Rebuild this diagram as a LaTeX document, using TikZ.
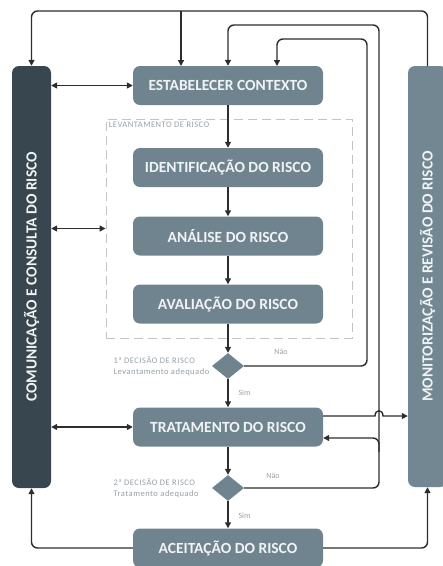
\documentclass[tikz,border=0pt]{standalone}
\usepackage{fontspec}
\setmainfont{Carlito}
\usetikzlibrary{arrows.meta,shapes.geometric}
\definecolor{boxc}{RGB}{112,132,143}
\definecolor{darkbar}{RGB}{55,70,79}
\definecolor{lightbar}{RGB}{114,135,146}
\definecolor{linec}{RGB}{45,45,45}
\definecolor{labc}{RGB}{150,160,166}
\definecolor{dashc}{RGB}{195,195,195}
\definecolor{txtc}{RGB}{240,243,245}
\begin{document}
\begin{tikzpicture}[x=1pt,y=-1pt,
 stepbox/.style={draw=none,fill=boxc,rounded corners=7pt,minimum width=190pt,minimum height=39pt,text=txtc,font=\fontsize{15.5}{17}\selectfont\bfseries,inner sep=0pt},
 bar/.style={fill=#1,rounded corners=7pt,minimum width=39pt,inner sep=0pt},
 decision/.style={diamond,fill=boxc,minimum width=32pt,minimum height=26pt,inner sep=0pt},
 conn/.style={draw=linec,line width=1.4pt,-{Triangle[length=6pt,width=6pt]}},
 conn2/.style={draw=linec,line width=1.4pt,{Triangle[length=6pt,width=6pt]}-{Triangle[length=6pt,width=6pt]}},
 small/.style={text=labc,font=\fontsize{8.5}{11}\selectfont\addfontfeatures{LetterSpace=6}},
 tiny/.style={text=labc,font=\fontsize{8}{10}\selectfont},
 bartext/.style={text=txtc,font=\fontsize{15.5}{17}\selectfont\bfseries,rotate=90}
]
\useasboundingbox (0,0) rectangle (443,566);
% bars
\node[bar=darkbar,minimum height=422pt] (lb) at (31.5,277) {};
\node[bartext] (lbt) at (lb) {COMUNICAÇÃO E CONSULTA DO RISCO};
\node[bar=lightbar,minimum height=421pt] (rb) at (427.5,276.5) {};
\node[bartext] (rbt) at (rb) {MONITORIZAÇÃO E REVISÃO DO RISCO};
% dashed group
\node[draw=dashc,line width=0.8pt,dash pattern=on 9pt off 5pt,minimum width=246pt,minimum height=219pt,inner sep=0pt] (lev) at (229,228.5) {};
\node[small,anchor=north west,inner sep=3pt] (levt) at (lev.north west) {LEVANTAMENTO DE RISCO};
% steps
\node[stepbox] (es) at (228,85.5) {ESTABELECER CONTEXTO};
\node[stepbox] (id) at (228,167.5) {IDENTIFICAÇÃO DO RISCO};
\node[stepbox] (an) at (228,236) {ANÁLISE DO RISCO};
\node[stepbox] (av) at (228,304) {AVALIAÇÃO DO RISCO};
\node[decision] (d1) at (228,366) {};
\node[stepbox] (tr) at (228,427) {TRATAMENTO DO RISCO};
\node[decision] (d2) at (228,488) {};
\node[stepbox] (ac) at (228,548) {ACEITAÇÃO DO RISCO};
% labels
\node[small,anchor=west,align=left] (dl1) at (110,366) {1ª DECISÃO DE RISCO\\Levantamento adequado};
\node[small,anchor=west,align=left] (dl2) at (110,488) {2ª DECISÃO DE RISCO\\Tratamento adequado};
\node[tiny] (n1) at (281,352) {Não};
\node[tiny] (n2) at (273,476) {Não};
\node[tiny,anchor=west] (s1) at (235,393) {Sim};
\node[tiny,anchor=west] (s2) at (235,516) {Sim};
% main flow
\draw[conn] (es) -- (id);
\draw[conn] (id) -- (an);
\draw[conn] (an) -- (av);
\draw[conn] (av) -- (d1);
\draw[conn] (d1) -- (tr);
\draw[conn] (tr) -- (d2);
\draw[conn] (d2) -- (ac);
% double arrows
\draw[conn2] (lb.east |- es.west) -- (es.west);
\draw[conn2] (lb.east |- lev.west) -- (lev.west);
\draw[conn2] (lb.east |- tr.west) -- (tr.west);
% top loop A
\coordinate (ya) at (0,11);
\coordinate (ea) at (181,66);
\draw[conn,rounded corners=6pt] (rb.north) -- (rb.north |- ya) -- (lb.north |- ya) -- (lb.north);
\draw[conn] (ea |- ya) -- (ea);
% loop B
\coordinate (xb) at (379,0);
\coordinate (yb) at (0,25);
\coordinate (yt) at (0,438);
\coordinate (bs) at (379,452);
\draw[conn,rounded corners=6pt] (d2.east) -- (xb |- d2.east) -- (xb |- yb) -- (es.north |- yb) -- (es.north);
\draw[conn,rounded corners=6pt] (bs) -- (xb |- yt) -- (tr.east |- yt);
% loop C
\coordinate (xc) at (367,0);
\coordinate (yc) at (0,39);
\coordinate (ec) at (277,66);
\draw[conn,rounded corners=6pt] (d1.east) -- (xc |- d1.east) -- (xc |- yc) -- (ec |- yc) -- (ec);
% tratamento to monitoring with jump
\coordinate (yj) at (0,416);
\coordinate (j1) at (375,416);
\coordinate (j2) at (383,416);
\draw[conn] (tr.east |- yj) -- (j1) .. controls (375,409) and (383,409) .. (j2) -- (rb.west |- yj);
% aceitacao
\draw[conn,rounded corners=6pt] (ac.east) -- (rb.south |- ac.east) -- (rb.south);
\draw[conn,rounded corners=6pt] (ac.west) -- (lb.south |- ac.west) -- (lb.south);
\end{tikzpicture}
\end{document}
